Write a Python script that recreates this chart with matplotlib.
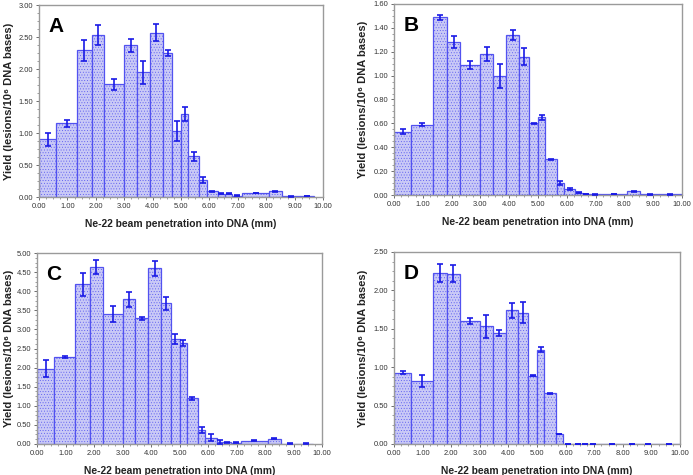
import matplotlib
matplotlib.use('Agg')
import matplotlib.pyplot as plt
from matplotlib.ticker import MultipleLocator, FormatStrFormatter
import numpy as np

# bin edges (mm) shared by all panels
edges = [0.0, 0.6, 1.35, 1.85, 2.3, 3.0, 3.45, 3.9, 4.35, 4.7, 5.0, 5.25,
         5.65, 5.9, 6.3, 6.55, 6.8, 7.15, 8.1, 8.55, 9.2, 9.7]
edges_long = edges[:-1] + [10.0]

yield_a = [0.90, 1.15, 2.29, 2.53, 1.76, 2.37, 1.95, 2.57, 2.25, 1.03, 1.30,
           0.64, 0.27, 0.09, 0.05, 0.05, 0.02, 0.06, 0.09, 0.01, 0.015]
err_a = [0.10, 0.05, 0.17, 0.16, 0.09, 0.10, 0.18, 0.14, 0.05, 0.16, 0.11,
         0.07, 0.05, 0.01, 0.005, 0.005, 0.005, 0.005, 0.005, 0.003, 0.005]

yield_b = [0.53, 0.59, 1.49, 1.28, 1.09, 1.18, 1.00, 1.34, 1.16, 0.60, 0.65,
           0.30, 0.10, 0.05, 0.02, 0.01, 0.005, 0.01, 0.03, 0.005, 0.005]
err_b = [0.02, 0.015, 0.02, 0.05, 0.035, 0.06, 0.10, 0.045, 0.07, 0.004, 0.02,
         0.005, 0.02, 0.005, 0.003, 0.002, 0.002, 0.002, 0.003, 0.002, 0.002]

yield_c = [1.97, 2.28, 4.18, 4.63, 3.40, 3.79, 3.29, 4.60, 3.68, 2.76, 2.64,
           1.20, 0.37, 0.17, 0.05, 0.04, 0.03, 0.09, 0.14, 0.01, 0.01]
err_c = [0.22, 0.03, 0.30, 0.18, 0.20, 0.20, 0.04, 0.19, 0.18, 0.13, 0.08,
         0.04, 0.08, 0.08, 0.06, 0.01, 0.01, 0.01, 0.01, 0.005, 0.005]

yield_d = [0.93, 0.82, 2.23, 2.22, 1.60, 1.53, 1.44, 1.74, 1.71, 0.89, 1.23,
           0.66, 0.13, 0.0, 0.0, 0.0, 0.0, 0.0, 0.0, 0.0, 0.0]
err_d = [0.02, 0.08, 0.12, 0.11, 0.04, 0.15, 0.04, 0.10, 0.14, 0.005, 0.03,
         0.01, 0.005, 0.004, 0.004, 0.004, 0.004, 0.004, 0.004, 0.004, 0.004]

panels = [
    ('A', edges, yield_a, err_a, 3.0, 0.5),
    ('B', edges_long, yield_b, err_b, 1.6, 0.2),
    ('C', edges, yield_c, err_c, 5.0, 0.5),
    ('D', edges_long, yield_d, err_d, 2.5, 0.5),
]

# axes boxes in pixels: left, right, top, bottom
boxes = [(39, 323, 5, 197), (394, 682, 4, 195), (37, 322, 253, 444), (394, 680, 252, 444)]
# x pixel where the right side of the rotated y label sits
ylabel_x = [14, 368, 14, 368]

W, H = 693, 475
plt.rcParams['font.family'] = ['Liberation Sans', 'DejaVu Sans']
plt.rcParams['hatch.color'] = '#b4b6f0'
plt.rcParams['hatch.linewidth'] = 0.3

fig = plt.figure(figsize=(W / 100, H / 100), dpi=100)

for (letter, e, vals, errs, ymax, ystep), (l, r, t, b), lx in zip(panels, boxes, ylabel_x):
    ax = fig.add_axes([l / W, 1 - b / H, (r - l) / W, (b - t) / H])
    e = np.array(e)
    widths = np.diff(e)
    centers = e[:-1] + widths / 2
    ax.bar(e[:-1], vals, width=widths, align='edge', facecolor='#c9c9f6',
           edgecolor='#5252f0', linewidth=0.9, hatch='......', zorder=2)
    ax.errorbar(centers, vals, yerr=errs, fmt='none', ecolor='#1a1ae6',
                elinewidth=1.2, capsize=2, capthick=1.2, zorder=3)
    ax.set_xlim(0, 10)
    ax.set_ylim(0, ymax)
    ax.xaxis.set_major_locator(MultipleLocator(1))
    ax.xaxis.set_minor_locator(MultipleLocator(0.25))
    ax.yaxis.set_major_locator(MultipleLocator(ystep))
    ax.yaxis.set_minor_locator(MultipleLocator(ystep / 4))
    ax.xaxis.set_major_formatter(FormatStrFormatter('%.2f'))
    ax.yaxis.set_major_formatter(FormatStrFormatter('%.2f'))
    ax.tick_params(which='major', direction='out', length=2.5, width=0.6,
                   labelsize=5.4, colors='#555555', labelcolor='#333333', pad=1.5)
    ax.tick_params(which='minor', direction='out', length=1.3, width=0.5, colors='#777777')
    for s in ax.spines.values():
        s.set_color('#9a9a9a')
        s.set_linewidth(1.0)
    ax.set_xlabel('Ne-22 beam penetration into DNA (mm)', fontsize=7.4,
                  fontweight='bold', color='#222222', labelpad=7)
    ax.set_ylabel('Yield (lesions/10\u2076 DNA bases)', fontsize=8.0,
                  fontweight='bold', color='#222222')
    ax.yaxis.set_label_coords((lx - l) / (r - l), 0.5)
    ax.text(0.032, 0.935, letter, transform=ax.transAxes, fontsize=15,
            fontweight='bold', va='top', ha='left', color='black')

fig.savefig('out.png', dpi=100)
